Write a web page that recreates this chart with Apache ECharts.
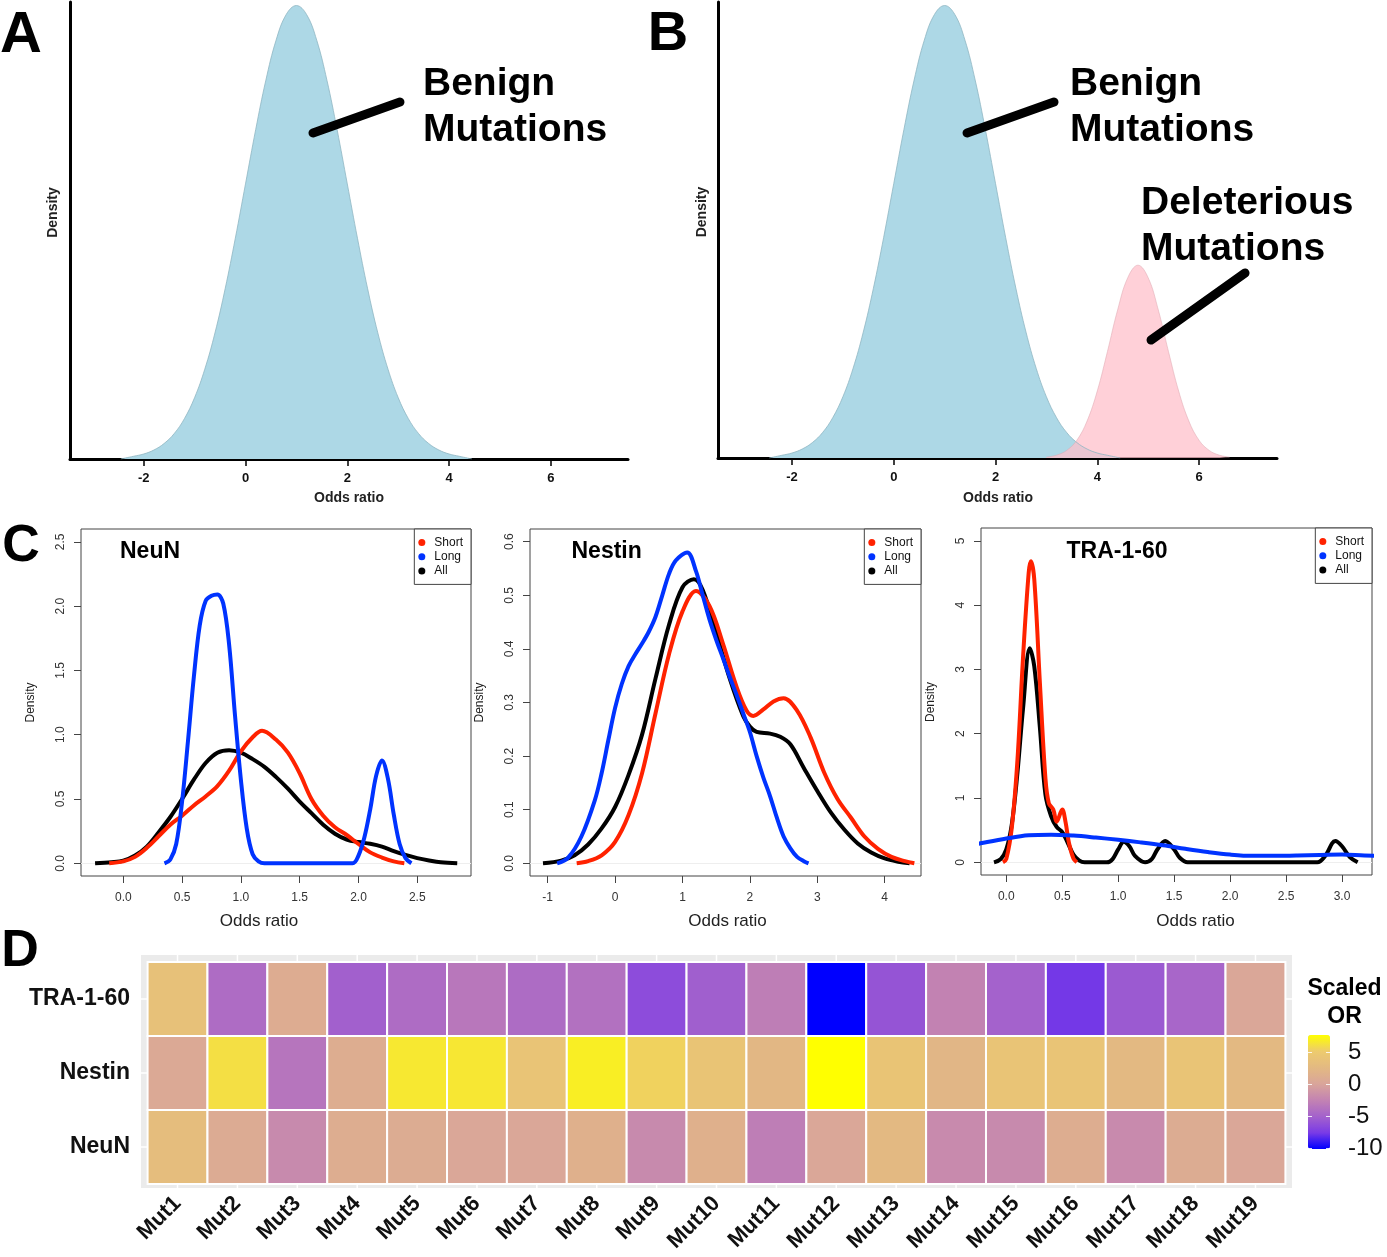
<!DOCTYPE html>
<html><head><meta charset="utf-8">
<script src="https://cdn.jsdelivr.net/npm/echarts@6/dist/echarts.min.js"></script>
<style>html,body{margin:0;padding:0;background:#fff}#c{width:1387px;height:1257px}</style>
</head><body><div id="c"></div>
<script>
// ---------------- DATA ----------------
// Panel A/B: benign density (blue) and deleterious density (pink)
const benignX = [-2.45,-2.2,-2.0,-1.8,-1.6,-1.4,-1.2,-1.0,-0.8,-0.6,-0.4,-0.2,0.0,0.2,0.4,0.6,0.8,1.0,1.2,1.4,1.6,1.8,2.0,2.2,2.4,2.6,2.8,3.0,3.2,3.4,3.6,3.8,4.0,4.2,4.45];
const benignY = [0.0,0.0024,0.0044,0.0079,0.0136,0.0224,0.0355,0.054,0.079,0.1109,0.1497,0.1942,0.242,0.2897,0.3332,0.3683,0.391,0.3989,0.391,0.3683,0.3332,0.2897,0.242,0.1942,0.1497,0.1109,0.079,0.054,0.0355,0.0224,0.0136,0.0079,0.0044,0.0024,0.0];
const deleteriousX = [3.0,3.2,3.4,3.6,3.8,4.0,4.2,4.4,4.6,4.8,5.0,5.2,5.4,5.6,5.8,6.0,6.2,6.4,6.6];
const deleteriousY = [0.0008,0.0025,0.0067,0.0157,0.0326,0.059,0.0938,0.1305,0.159,0.17,0.159,0.1305,0.0938,0.059,0.0326,0.0157,0.0067,0.0025,0.0008];
// annotation pointers (data coordinates)
const benignPointerA = [[1.326,0.2868],[3.035,0.314]];
const benignPointerB = [[1.44,0.2865],[3.15,0.3138]];
const deleteriousPointerB = [[5.057,0.104],[6.905,0.1631]];

// Panel C: NeuN
const neunShortX = [-0.12,0.0,0.1,0.2,0.3,0.4,0.5,0.6,0.7,0.8,0.9,1.0,1.1,1.18,1.3,1.4,1.5,1.6,1.7,1.8,1.9,2.0,2.1,2.2,2.3,2.39];
const neunShortY = [0,0.015,0.05,0.12,0.21,0.3,0.37,0.45,0.52,0.6,0.72,0.87,0.98,1.03,0.96,0.86,0.7,0.5,0.37,0.28,0.22,0.15,0.085,0.045,0.015,0];
const neunLongX = [0.35,0.4,0.45,0.5,0.55,0.6,0.65,0.7,0.75,0.8,0.85,0.9,0.95,1.0,1.05,1.1,1.15,1.2,1.95,2.0,2.05,2.1,2.15,2.2,2.25,2.3,2.35,2.4,2.45];
const neunLongY = [0,0.03,0.15,0.48,0.95,1.45,1.85,2.04,2.08,2.09,2.02,1.7,1.15,0.65,0.27,0.07,0.015,0,0,0.06,0.2,0.42,0.68,0.8,0.66,0.38,0.15,0.04,0];
const neunAllX = [-0.24,-0.1,0.0,0.1,0.2,0.3,0.4,0.5,0.6,0.7,0.8,0.9,1.0,1.1,1.2,1.3,1.4,1.5,1.6,1.7,1.8,1.9,2.0,2.1,2.2,2.3,2.4,2.5,2.6,2.7,2.84];
const neunAllY = [0,0.008,0.02,0.06,0.13,0.24,0.36,0.5,0.65,0.78,0.86,0.88,0.86,0.81,0.75,0.67,0.58,0.48,0.39,0.3,0.23,0.185,0.165,0.152,0.13,0.095,0.065,0.04,0.022,0.008,0];

// Panel C: Nestin
const nestinShortX = [-0.57,-0.4,-0.2,0.0,0.2,0.4,0.6,0.8,1.0,1.2,1.4,1.6,1.8,1.95,2.05,2.2,2.35,2.5,2.7,2.9,3.1,3.3,3.5,3.7,3.9,4.1,4.3,4.44];
const nestinShortY = [0,0.004,0.015,0.04,0.09,0.168,0.28,0.39,0.47,0.508,0.48,0.41,0.33,0.285,0.275,0.287,0.302,0.308,0.285,0.235,0.17,0.12,0.085,0.05,0.027,0.012,0.004,0];
const nestinLongX = [-0.86,-0.7,-0.5,-0.3,-0.2,-0.1,0.0,0.1,0.2,0.3,0.4,0.5,0.6,0.7,0.8,0.9,1.07,1.2,1.3,1.4,1.5,1.6,1.7,1.8,1.9,2.0,2.1,2.2,2.3,2.4,2.5,2.6,2.7,2.8,2.87];
const nestinLongY = [0,0.01,0.05,0.118,0.168,0.23,0.29,0.335,0.368,0.39,0.41,0.432,0.46,0.5,0.54,0.565,0.58,0.545,0.5,0.455,0.417,0.383,0.348,0.315,0.28,0.245,0.2,0.16,0.125,0.085,0.05,0.028,0.012,0.004,0];
const nestinAllX = [-1.07,-0.8,-0.6,-0.4,-0.2,0.0,0.2,0.4,0.6,0.8,1.0,1.17,1.3,1.5,1.7,1.9,2.0,2.1,2.3,2.45,2.6,2.8,3.0,3.2,3.4,3.6,3.8,4.0,4.2,4.37];
const nestinAllY = [0,0.005,0.015,0.035,0.065,0.105,0.165,0.24,0.345,0.445,0.515,0.53,0.51,0.43,0.345,0.275,0.255,0.245,0.242,0.236,0.222,0.178,0.135,0.095,0.063,0.037,0.02,0.009,0.003,0];

// Panel C: TRA-1-60
const traShortX = [-0.03,0.0,0.05,0.1,0.15,0.2,0.22,0.25,0.3,0.35,0.38,0.42,0.45,0.5,0.53,0.56,0.6,0.63];
const traShortY = [0,0.05,0.55,1.6,3.2,4.5,4.68,4.4,2.8,1.3,0.92,0.82,0.63,0.82,0.62,0.3,0.06,0];
const traLongX = [-0.3,-0.23,0.0,0.2,0.4,0.6,0.8,1.0,1.2,1.4,1.6,1.8,2.0,2.2,2.4,2.6,2.8,3.0,3.2,3.35];
const traLongY = [0.27,0.295,0.37,0.42,0.43,0.415,0.385,0.35,0.31,0.265,0.21,0.16,0.12,0.1,0.1,0.105,0.115,0.12,0.105,0.1];
const traAllX = [-0.11,-0.05,0.0,0.05,0.1,0.15,0.21,0.25,0.3,0.35,0.4,0.45,0.5,0.55,0.6,0.65,0.7,0.9,0.95,1.0,1.05,1.1,1.15,1.24,1.3,1.35,1.42,1.5,1.55,1.62,2.78,2.85,2.94,3.0,3.07,3.14];
const traAllY = [0,0.05,0.2,0.6,1.4,2.4,3.33,3.05,2.1,1.05,0.72,0.55,0.47,0.3,0.12,0.03,0,0,0.05,0.2,0.32,0.25,0.1,0,0.05,0.2,0.33,0.2,0.07,0,0,0.1,0.33,0.25,0.08,0];

// Panel C tick labels
const neunXTicks = [0,0.5,1.0,1.5,2.0,2.5];
const neunYTicks = [0,0.5,1.0,1.5,2.0,2.5];
const nestinXTicks = [-1,0,1,2,3,4];
const nestinYTicks = [0,0.1,0.2,0.3,0.4,0.5,0.6];
const traXTicks = [0,0.5,1.0,1.5,2.0,2.5,3.0];
const traYTicks = [0,1,2,3,4,5];
const abXTicks = [-2,0,2,4,6];

// Panel D: heatmap
const muts = ['Mut1','Mut2','Mut3','Mut4','Mut5','Mut6','Mut7','Mut8','Mut9','Mut10','Mut11','Mut12','Mut13','Mut14','Mut15','Mut16','Mut17','Mut18','Mut19'];
const markers = ['NeuN','Nestin','TRA-1-60']; // bottom to top
const neunOR   = [3.2,0.8,-1.95,1.1,0.95,0.3,0.3,1.5,-1.95,1.5,-2.85,0.3,2.6,-1.9,-1.95,1.1,-1.9,0.9,0.3];
const nestinOR = [0.6,6.1,-3.5,1.1,6.55,6.5,4.15,6.85,5.5,4.2,2.4,7.67,4.2,2.2,4.1,4.1,2.6,4.1,2.6];
const traOR    = [3.7,-4.2,1.0,-5.1,-4.2,-3.35,-4.25,-3.85,-6.4,-5.2,-2.85,-10.05,-5.9,-2.5,-5.0,-7.65,-5.5,-4.7,0.3];
const scaleTicks = [-10,-5,0,5];
const scaleMin = -10.05, scaleMax = 7.67;

// ---------------- BUILD ----------------
const FONT = '"Liberation Sans", Arial, Helvetica, sans-serif';
const RED = '#FF2200', BLUE = '#0033FF', BLACK = '#000000';
const pairs = (xs, ys) => xs.map((x, i) => [x, ys[i]]);

function cX(gi, min, max, ticks, fmt) {
  return {gridIndex: gi, type: 'value', min, max,
    axisLine: {show: false, onZero: false},
    axisTick: {show: true, customValues: ticks, length: 7, lineStyle: {color: '#444', width: 1}},
    axisLabel: {customValues: ticks, formatter: fmt, fontSize: 12, color: '#333', margin: 16, fontFamily: FONT},
    splitLine: {show: false}};
}
function cY(gi, min, max, ticks, fmt) {
  return {gridIndex: gi, type: 'value', min, max,
    axisLine: {show: false, onZero: false},
    axisTick: {show: true, customValues: ticks, length: 7, lineStyle: {color: '#444', width: 1}},
    axisLabel: {customValues: ticks, formatter: fmt, fontSize: 12, color: '#333', margin: 14, rotate: 90, fontFamily: FONT},
    splitLine: {show: false}};
}
function abX(gi, min, max) {
  return {gridIndex: gi, type: 'value', min, max,
    axisLine: {show: true, onZero: false, lineStyle: {color: '#000', width: 3}},
    axisTick: {show: true, customValues: abXTicks, length: 7, lineStyle: {color: '#000', width: 1.5}},
    axisLabel: {customValues: abXTicks, fontSize: 13, fontWeight: 'bold', color: '#111', margin: 13, fontFamily: FONT},
    splitLine: {show: false}};
}
function abY(gi) {
  return {gridIndex: gi, type: 'value', min: 0, max: 0.402,
    axisLine: {show: true, onZero: false, lineStyle: {color: '#000', width: 3}},
    axisTick: {show: false}, axisLabel: {show: false}, splitLine: {show: false}};
}
const f1 = v => Number(v).toFixed(1);
const f0 = v => String(v);

const series = [];
function density(name, gi, xs, ys, fill, edge) {
  series.push({type: 'line', name, xAxisIndex: gi, yAxisIndex: gi, data: pairs(xs, ys),
    symbol: 'none', smooth: 0.4, silent: true,
    lineStyle: {color: edge, width: 0.8}, areaStyle: {color: fill, opacity: 1}, z: 2});
}
function pointer(gi, pts) {
  series.push({type: 'line', xAxisIndex: gi, yAxisIndex: gi, data: pts, symbol: 'none', silent: true,
    lineStyle: {color: '#000', width: 9, cap: 'round'}, z: 5});
}
function curve(name, gi, xs, ys, color, zeroLine) {
  const s = {type: 'line', name, xAxisIndex: gi, yAxisIndex: gi, data: pairs(xs, ys),
    symbol: 'none', smooth: 0.35, clip: true, silent: true,
    itemStyle: {color}, lineStyle: {color, width: 4, join: 'round'}, z: 3};
  if (zeroLine) s.markLine = {silent: true, symbol: 'none', label: {show: false},
    lineStyle: {color: '#eeeeee', width: 1, type: 'solid'}, data: [{yAxis: 0}], z: 1};
  series.push(s);
}

// A
density('Benign', 0, benignX, benignY, '#ADD8E6', '#8fb6c3');
pointer(0, benignPointerA);
// B
density('Benign', 1, benignX, benignY, '#ADD8E6', '#8fb6c3');
density('Deleterious', 1, deleteriousX, deleteriousY, 'rgba(255,192,203,0.75)', 'rgba(225,170,180,0.7)');
pointer(1, benignPointerB);
pointer(1, deleteriousPointerB);
// C
curve('All', 2, neunAllX, neunAllY, BLACK, true);
curve('Short', 2, neunShortX, neunShortY, RED);
curve('Long', 2, neunLongX, neunLongY, BLUE);
curve('All', 3, nestinAllX, nestinAllY, BLACK, true);
curve('Short', 3, nestinShortX, nestinShortY, RED);
curve('Long', 3, nestinLongX, nestinLongY, BLUE);
curve('All', 4, traAllX, traAllY, BLACK, true);
curve('Short', 4, traShortX, traShortY, RED);
curve('Long', 4, traLongX, traLongY, BLUE);

// D gridlines
const XMIN = 0.39, XMAX = 19.61, YMIN = 0.446, YMAX = 3.595;
const gridData = muts.map((m, i) => [0, i + 1]).concat(markers.map((m, j) => [1, j + 1]));
series.push({type: 'custom', xAxisIndex: 5, yAxisIndex: 5, silent: true, z: 1, data: gridData,
  encode: {x: -1, y: -1},
  renderItem: (p, api) => {
    const kind = api.value(0), pos = api.value(1);
    const a = kind === 0 ? api.coord([pos, YMIN]) : api.coord([XMIN, pos]);
    const b = kind === 0 ? api.coord([pos, YMAX]) : api.coord([XMAX, pos]);
    return {type: 'line', shape: {x1: a[0], y1: a[1], x2: b[0], y2: b[1]}, style: {stroke: '#ffffff', lineWidth: 1.5}};
  }});
// D tiles
const tileData = [];
[neunOR, nestinOR, traOR].forEach((row, j) => row.forEach((v, i) => tileData.push([i + 1, j + 1, v])));
const tileIdx = series.length;
series.push({type: 'custom', xAxisIndex: 5, yAxisIndex: 5, silent: true, z: 2, data: tileData,
  renderItem: (p, api) => {
    const x = api.value(0), y = api.value(1);
    const p0 = api.coord([x - 0.5, y + 0.5]);
    const p1 = api.coord([x + 0.5, y - 0.5]);
    return {type: 'rect', shape: {x: p0[0], y: p0[1], width: p1[0] - p0[0], height: p1[1] - p0[1]},
      style: {fill: api.visual('color'), stroke: '#ffffff', lineWidth: 2}};
  }});

const legendBase = {orient: 'vertical', icon: 'circle', itemWidth: 7, itemHeight: 7, itemGap: 1.2,
  padding: [7, 8, 7, 4], borderColor: '#444', borderWidth: 1, backgroundColor: '#fff', selectedMode: false,
  textStyle: {fontSize: 12, color: '#111', lineHeight: 13, fontFamily: FONT, padding: [0, 0, 0, 4]},
  data: ['Short', 'Long', 'All']};

const T = (text, x, y, size, weight, opts) => Object.assign({type: 'text', x, y, silent: true, z: 100,
  style: Object.assign({text, fontSize: size, fontWeight: weight, fontFamily: FONT, fill: '#000',
    align: 'center', verticalAlign: 'middle'}, (opts && opts.style) || {})}, (opts && opts.el) || {});

const option = {
  animation: false,
  backgroundColor: '#ffffff',
  textStyle: {fontFamily: FONT},
  grid: [
    {left: 70, top: 2, width: 558, height: 457},
    {left: 718, top: 2, width: 559, height: 456},
    {left: 81, top: 529, width: 390, height: 347, show: true, borderColor: '#444', borderWidth: 1},
    {left: 530, top: 529, width: 391, height: 347, show: true, borderColor: '#444', borderWidth: 1},
    {left: 981, top: 528, width: 391, height: 347, show: true, borderColor: '#444', borderWidth: 1},
    {left: 141, top: 955, width: 1151, height: 233, show: true, backgroundColor: '#EBEBEB', borderWidth: 0},
    {left: 1308, top: 1035, width: 22, height: 114}
  ],
  xAxis: [
    abX(0, -3.448, 7.515),
    abX(1, -3.455, 7.533),
    cX(2, -0.3597, 2.957, neunXTicks, f1),
    cX(3, -1.2626, 4.5386, nestinXTicks, f0),
    cX(4, -0.226, 3.268, traXTicks, f1),
    {gridIndex: 5, type: 'value', min: XMIN, max: XMAX, axisLine: {show: false}, axisTick: {show: false}, splitLine: {show: false},
      axisLabel: {customValues: muts.map((m, i) => i + 1), formatter: v => muts[Math.round(v) - 1], rotate: 45,
        fontSize: 22, fontWeight: 'bold', color: '#111', margin: 12, fontFamily: FONT}},
    {gridIndex: 6, type: 'value', show: false, min: 0, max: 1}
  ],
  yAxis: [
    abY(0), abY(1),
    cY(2, -0.0988, 2.5996, neunYTicks, f1),
    cY(3, -0.0237, 0.6237, nestinYTicks, f1),
    cY(4, -0.1975, 5.199, traYTicks, f0),
    {gridIndex: 5, type: 'value', min: YMIN, max: YMAX, axisLine: {show: false}, axisTick: {show: false}, splitLine: {show: false},
      axisLabel: {customValues: [1, 2, 3], formatter: v => markers[Math.round(v) - 1], fontSize: 23, fontWeight: 'bold',
        color: '#111', margin: 11, fontFamily: FONT}},
    {gridIndex: 6, type: 'value', position: 'left', min: scaleMin, max: scaleMax, z: 10,
      axisLine: {show: false}, splitLine: {show: false}, axisLabel: {show: false},
      axisTick: {show: true, inside: true, length: 4, customValues: scaleTicks, lineStyle: {color: 'rgba(255,255,255,0.85)', width: 1}}},
    {gridIndex: 6, type: 'value', position: 'right', min: scaleMin, max: scaleMax, z: 10,
      axisLine: {show: false}, splitLine: {show: false},
      axisTick: {show: true, inside: true, length: 4, customValues: scaleTicks, lineStyle: {color: 'rgba(255,255,255,0.85)', width: 1}},
      axisLabel: {customValues: scaleTicks, fontSize: 24, color: '#111', margin: 18, fontFamily: FONT, padding: [5, 0, 0, 0]}}
  ],
  visualMap: [{
    type: 'continuous', min: scaleMin, max: scaleMax, dimension: 2, seriesIndex: [tileIdx],
    left: 1308, top: 1035, itemWidth: 22, itemHeight: 114, padding: 0, calculable: false,
    hoverLink: false, realtime: false, text: null, orient: 'vertical',
    inRange: {color: ['#0000FF', '#7A3BE6', '#A462CC', '#C383B2', '#D9A59A', '#E3B982', '#EDCB6E', '#FFFF00']}
  }],
  legend: [
    Object.assign({}, legendBase, {right: 1387 - 471, top: 529}),
    Object.assign({}, legendBase, {right: 1387 - 921, top: 529}),
    Object.assign({}, legendBase, {right: 1387 - 1372, top: 528})
  ],
  graphic: {elements: [
    T('A', 21, 36, 58, 'bold'),
    T('B', 668, 35, 56, 'bold'),
    T('C', 21, 546.5, 52, 'bold'),
    T('D', 20, 952, 52, 'bold'),
    T('Benign\nMutations', 423, 107.5, 39, 'bold', {style: {align: 'left', lineHeight: 46}}),
    T('Benign\nMutations', 1070, 107, 39, 'bold', {style: {align: 'left', lineHeight: 46}}),
    T('Deleterious\nMutations', 1141, 226, 39, 'bold', {style: {align: 'left', lineHeight: 46}}),
    T('Odds ratio', 349, 498, 14, 'bold', {style: {fill: '#222'}}),
    T('Odds ratio', 998, 498, 14, 'bold', {style: {fill: '#222'}}),
    T('Density', 53.5, 212.5, 14, 'bold', {style: {fill: '#222'}, el: {rotation: Math.PI / 2}}),
    T('Density', 702, 212, 14, 'bold', {style: {fill: '#222'}, el: {rotation: Math.PI / 2}}),
    T('NeuN', 120, 552, 23, 'bold', {style: {align: 'left'}}),
    T('Nestin', 571.5, 552, 23, 'bold', {style: {align: 'left'}}),
    T('TRA-1-60', 1066.5, 552, 23, 'bold', {style: {align: 'left'}}),
    T('Odds ratio', 259, 921, 17, 'normal', {style: {fill: '#222'}}),
    T('Odds ratio', 727.5, 921, 17, 'normal', {style: {fill: '#222'}}),
    T('Odds ratio', 1195.5, 921, 17, 'normal', {style: {fill: '#222'}}),
    T('Density', 30.5, 702.5, 12, 'normal', {style: {fill: '#222'}, el: {rotation: Math.PI / 2}}),
    T('Density', 480, 702.5, 12, 'normal', {style: {fill: '#222'}, el: {rotation: Math.PI / 2}}),
    T('Density', 930.5, 702, 12, 'normal', {style: {fill: '#222'}, el: {rotation: Math.PI / 2}}),
    T('Scaled\nOR', 1344.5, 1002.5, 23, 'bold', {style: {lineHeight: 28.5}})
  ]},
  series
};
const chart = echarts.init(document.getElementById('c'), null, {renderer: 'canvas', width: 1387, height: 1257});
chart.setOption(option);
</script></body></html>
